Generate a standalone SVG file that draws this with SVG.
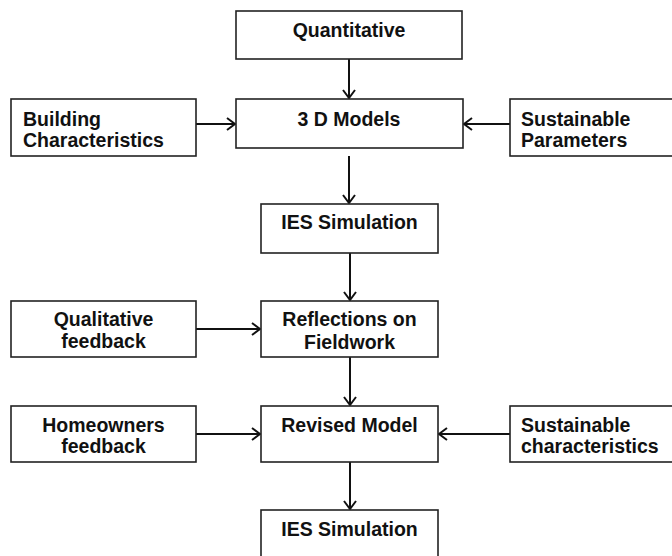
<svg xmlns="http://www.w3.org/2000/svg" width="672" height="556" viewBox="0 0 672 556">
  <style>
    .box { fill: #ffffff; stroke: #222222; stroke-width: 1.6; }
    .lbl { font-family: "Liberation Sans", Arial, sans-serif; font-weight: bold; font-size: 19.5px; fill: #111111; }
    .mid { text-anchor: middle; }
    .link { stroke: #111111; stroke-width: 2; fill: none; marker-end: url(#chevron); }
  </style>
  <defs>
    <marker id="chevron" viewBox="0 0 10 14" refX="9" refY="7" markerWidth="10" markerHeight="14" markerUnits="userSpaceOnUse" orient="auto">
      <path d="M1,1 L9,7 L1,13" fill="none" stroke="#111111" stroke-width="2" stroke-linejoin="miter"/>
    </marker>
  </defs>
  <rect width="672" height="556" fill="#ffffff"/>

  <g id="connectors">
    <line class="link" x1="349" y1="59" x2="349" y2="98"/>
    <line class="link" x1="196" y1="124" x2="235" y2="124"/>
    <line class="link" x1="510" y1="124" x2="464" y2="124"/>
    <line class="link" x1="349" y1="156" x2="349" y2="203"/>
    <line class="link" x1="350" y1="253" x2="350" y2="300"/>
    <line class="link" x1="196" y1="329" x2="260" y2="329"/>
    <line class="link" x1="350" y1="357" x2="350" y2="405"/>
    <line class="link" x1="196" y1="434" x2="260" y2="434"/>
    <line class="link" x1="510" y1="434" x2="439" y2="434"/>
    <line class="link" x1="350" y1="462" x2="350" y2="509"/>
  </g>

  <g id="quantitative">
    <rect class="box" x="236" y="11" width="226" height="48"/>
    <text class="lbl mid" x="349" y="37">Quantitative</text>
  </g>

  <g id="building-characteristics">
    <rect class="box" x="11" y="99" width="185" height="57"/>
    <text class="lbl" x="23" y="126">Building</text>
    <text class="lbl" x="23" y="147">Characteristics</text>
  </g>

  <g id="models-3d">
    <rect class="box" x="236" y="99" width="227" height="49"/>
    <text class="lbl mid" x="349" y="126">3 D Models</text>
  </g>

  <g id="sustainable-parameters">
    <rect class="box" x="510" y="99" width="170" height="57"/>
    <text class="lbl" x="521" y="126">Sustainable</text>
    <text class="lbl" x="521" y="147">Parameters</text>
  </g>

  <g id="ies-simulation-1">
    <rect class="box" x="261" y="204" width="177" height="49"/>
    <text class="lbl mid" x="349.5" y="229">IES Simulation</text>
  </g>

  <g id="qualitative-feedback">
    <rect class="box" x="11" y="301" width="185" height="56"/>
    <text class="lbl mid" x="103.5" y="326">Qualitative</text>
    <text class="lbl mid" x="103.5" y="348">feedback</text>
  </g>

  <g id="reflections-fieldwork">
    <rect class="box" x="261" y="301" width="177" height="56"/>
    <text class="lbl mid" x="349.5" y="326">Reflections on</text>
    <text class="lbl mid" x="349.5" y="349">Fieldwork</text>
  </g>

  <g id="homeowners-feedback">
    <rect class="box" x="11" y="406" width="185" height="56"/>
    <text class="lbl mid" x="103.5" y="432">Homeowners</text>
    <text class="lbl mid" x="103.5" y="453">feedback</text>
  </g>

  <g id="revised-model">
    <rect class="box" x="261" y="406" width="177" height="56"/>
    <text class="lbl mid" x="349.5" y="432">Revised Model</text>
  </g>

  <g id="sustainable-characteristics">
    <rect class="box" x="510" y="406" width="170" height="56"/>
    <text class="lbl" x="521" y="432">Sustainable</text>
    <text class="lbl" x="521" y="453">characteristics</text>
  </g>

  <g id="ies-simulation-2">
    <rect class="box" x="261" y="510" width="177" height="60"/>
    <text class="lbl mid" x="349.5" y="536">IES Simulation</text>
  </g>
</svg>
